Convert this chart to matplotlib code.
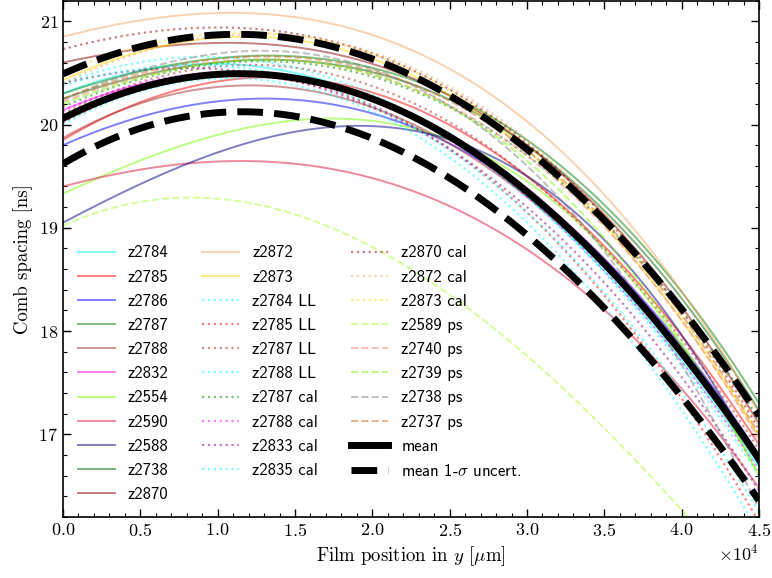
import numpy as np
import matplotlib
matplotlib.use('Agg')
import matplotlib.pyplot as plt
from matplotlib.ticker import MultipleLocator

plt.rcParams['font.family'] = 'cmr10'
plt.rcParams['mathtext.fontset'] = 'cm'
plt.rcParams['axes.formatter.use_mathtext'] = True

# curve values read at these film positions (um); each curve is a cubic fit
x_knots = [0, 15000, 30000, 45000]

labels = ['z2784', 'z2785', 'z2786', 'z2787', 'z2788', 'z2832', 'z2554', 'z2590',
          'z2588', 'z2738', 'z2870', 'z2872', 'z2873',
          'z2784 LL', 'z2785 LL', 'z2787 LL', 'z2788 LL',
          'z2787 cal', 'z2788 cal', 'z2833 cal', 'z2835 cal',
          'z2870 cal', 'z2872 cal', 'z2873 cal',
          'z2589 ps', 'z2740 ps', 'z2739 ps', 'z2738 ps', 'z2737 ps']

spacing = [
    [20.30, 20.50, 19.30, 16.68],  # z2784
    [19.85, 20.45, 19.50, 16.90],  # z2785
    [19.80, 20.24, 19.35, 16.80],  # z2786
    [20.30, 20.66, 19.85, 17.30],  # z2787
    [19.87, 20.35, 19.30, 16.80],  # z2788
    [20.14, 20.45, 19.38, 16.80],  # z2832
    [19.33, 20.04, 19.45, 16.60],  # z2554
    [19.40, 19.62, 18.79, 16.48],  # z2590
    [19.05, 19.93, 19.50, 16.70],  # z2588
    [20.25, 20.62, 19.80, 17.23],  # z2738
    [20.60, 20.75, 19.80, 17.10],  # z2870
    [20.85, 21.04, 20.03, 17.20],  # z2872
    [20.43, 20.82, 19.75, 16.98],  # z2873
    [20.00, 20.38, 19.05, 16.05],  # z2784 LL
    [20.02, 20.42, 19.15, 16.15],  # z2785 LL
    [20.10, 20.55, 19.50, 16.85],  # z2787 LL
    [20.40, 20.55, 19.30, 16.60],  # z2788 LL
    [20.17, 20.60, 19.70, 17.15],  # z2787 cal
    [20.13, 20.45, 19.30, 16.65],  # z2788 cal
    [20.40, 20.42, 19.20, 16.45],  # z2833 cal
    [20.38, 20.45, 19.15, 16.25],  # z2835 cal
    [20.73, 20.88, 19.82, 17.05],  # z2870 cal
    [20.40, 20.86, 19.85, 17.08],  # z2872 cal
    [20.50, 20.86, 19.80, 17.00],  # z2873 cal
    [19.02, 19.13, 17.76, 15.40],  # z2589 ps
    [20.22, 20.62, 19.70, 16.95],  # z2740 ps
    [20.20, 20.62, 19.65, 16.60],  # z2739 ps
    [20.24, 20.70, 19.60, 16.28],  # z2738 ps
    [20.25, 20.65, 19.75, 17.00],  # z2737 ps
]

mean_vals = [20.06, 20.45, 19.35, 16.76]
upper_vals = [20.49, 20.83, 19.76, 17.18]
lower_vals = [19.62, 20.08, 18.93, 16.36]

colors = ['cyan', 'red', 'blue', 'green', 'brown', 'magenta', 'lawngreen', 'crimson',
          'navy', 'darkgreen', 'darkred', 'sandybrown', 'gold',
          'cyan', 'red', 'brown', 'cyan',
          'green', 'magenta', 'purple', 'cyan',
          'darkred', 'sandybrown', 'gold',
          'greenyellow', 'salmon', 'lawngreen', 'gray', 'chocolate']
styles = ['-'] * 13 + [':'] * 11 + ['--'] * 5

x = np.linspace(0, 45000, 400)


def curve(vals):
  coef = np.polyfit(x_knots, vals, 3)
  return np.polyval(coef, x)


fig = plt.figure(figsize=(7.72, 5.78), dpi=100)
ax = fig.add_axes([0.0816, 0.1055, 0.9016, 0.8935])

for lab, vals, c, ls in zip(labels, spacing, colors, styles):
  lw = 1.6 if ls == ':' else 1.4
  ax.plot(x, curve(vals), color=c, ls=ls, lw=lw, alpha=0.5, label=lab)

ax.plot(x, curve(mean_vals), color='black', lw=5, label='mean')
ax.plot(x, curve(upper_vals), color='black', lw=5, ls='--', label=r'mean 1-$\sigma$ uncert.')
ax.plot(x, curve(lower_vals), color='black', lw=5, ls='--')

ax.set_xlim(0, 45000)
ax.set_ylim(16.2, 21.2)
ax.xaxis.set_major_locator(MultipleLocator(5000))
ax.xaxis.set_minor_locator(MultipleLocator(1000))
ax.yaxis.set_major_locator(MultipleLocator(1))
ax.yaxis.set_minor_locator(MultipleLocator(0.2))
ax.ticklabel_format(axis='x', style='sci', scilimits=(0, 0))
ax.tick_params(which='both', direction='in', top=True, right=True, labelsize=13)
ax.tick_params(which='major', length=6, width=1)
ax.tick_params(which='minor', length=3, width=0.8)
ax.xaxis.get_offset_text().set_fontsize(13)
for s in ax.spines.values():
  s.set_linewidth(1.2)

ax.set_xlabel(r'Film position in $y$ [$\mu$m]', fontsize=13.5)
ax.set_ylabel('Comb spacing [ns]', fontsize=13.5)

ax.legend(loc='lower left', ncol=3, frameon=False, prop={'family': 'cmss10', 'size': 12},
          handlelength=2.2, handletextpad=0.8, labelspacing=0.55, columnspacing=2.0,
          borderaxespad=0.5)

fig.savefig('out.png', dpi=100)
